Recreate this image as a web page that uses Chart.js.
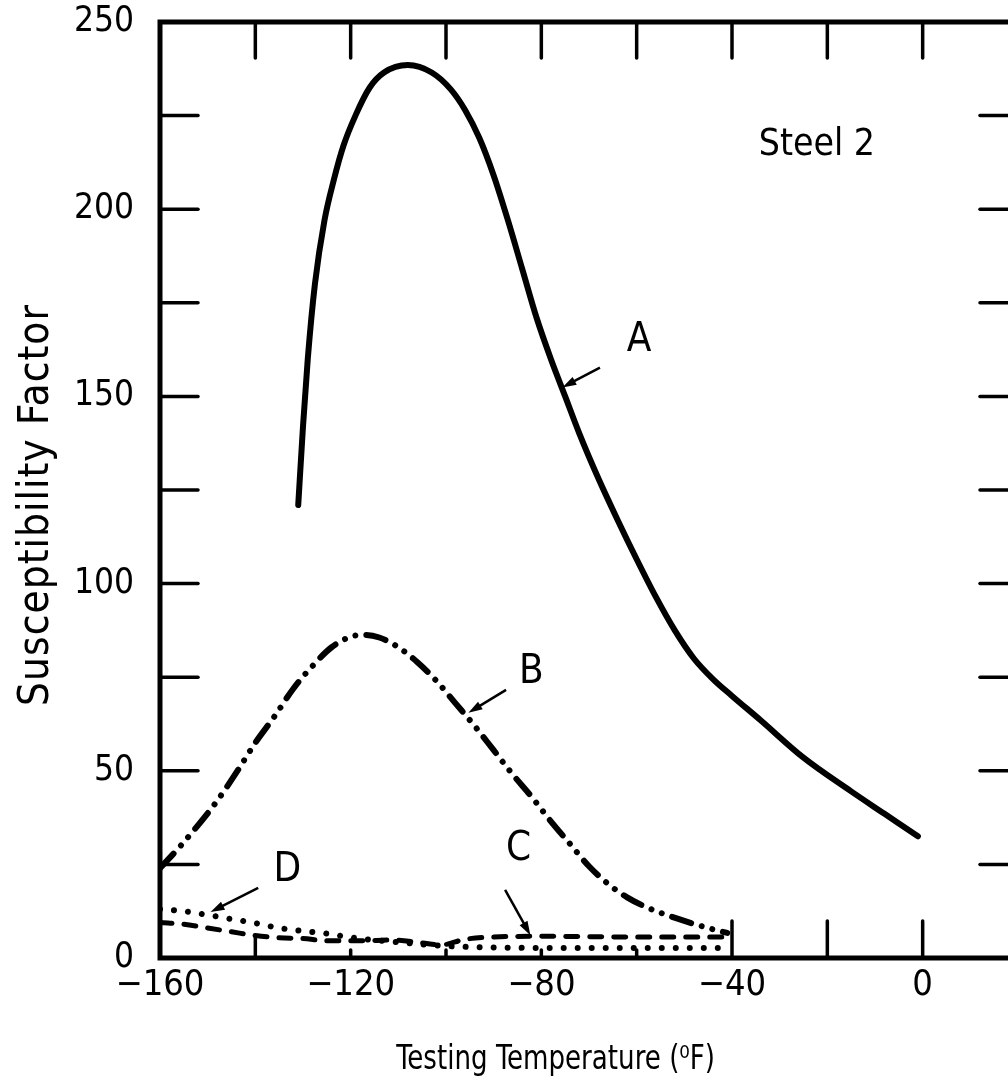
<!DOCTYPE html>
<html lang="en">
<head>
  <meta charset="UTF-8" />
  <title>Susceptibility Factor - Steel 2</title>
  <script src="https://cdn.jsdelivr.net/npm/chart.js"></script>
  <style>
    html, body {
      margin: 0;
      padding: 0;
      background: #fff;
      overflow: hidden;
    }
    #wrap {
      width: 1030px;
      height: 1091px;
    }
  </style>
</head>
<body>
  <div id="wrap"><canvas id="chart" width="1030" height="1091"></canvas></div>

  <script>
    // Curve A (solid)
    const aTemp = [-131, -130, -129, -127.5, -125.5, -123.5, -121.5, -119, -116, -113, -108, -103, -99, -96, -93, -90, -87, -84, -81, -78, -75, -72, -68, -64, -60, -56, -52, -48, -44, -40, -34, -25, -15, -8, -1];
    const aFactor = [121, 142, 160, 180, 197, 208, 217, 225, 232.5, 236.5, 238.5, 236.5, 232, 226.5, 219, 209, 197, 184, 171, 160, 150, 140, 128, 117, 106.5, 96.5, 87.5, 80, 74.5, 70, 63.5, 53.5, 44.5, 38.5, 32.5];

    // Curve B (dash-dot-dot)
    const bTemp = [-160, -156, -152, -148, -144, -140, -136, -132, -128, -124, -120, -117, -114, -110, -106, -102, -98, -94, -90, -86, -82, -78, -74, -70, -66, -62, -58, -54, -50, -45, -41];
    const bFactor = [24, 29.5, 35.5, 42, 49.5, 57.5, 64.5, 72, 78, 83, 85.8, 86.3, 85.6, 83, 79, 74, 68, 62, 55.5, 49, 43, 36.5, 30.5, 24.5, 19.8, 16.2, 13.6, 11.6, 9.9, 8, 6.7];

    // Curve C (dashed)
    const cTemp = [-160, -155, -150, -145, -140, -135, -130, -125, -118, -111, -105, -101, -96, -90, -80, -60, -41];
    const cFactor = [9.5, 9, 8, 7, 6, 5.4, 5.2, 4.6, 4.6, 4.8, 4, 3.5, 5, 5.6, 5.8, 5.6, 5.6];

    // Curve D (dotted)
    const dTemp = [-160, -155, -150, -145, -140, -135, -130, -125, -120, -110, -100, -90, -80, -60, -41];
    const dFactor = [13, 12.5, 11.5, 10.4, 9.3, 8, 7.2, 6.5, 5.5, 4.2, 3.2, 2.8, 2.7, 2.7, 2.7];

    const toPoints = (xs, ys) => xs.map((v, i) => ({ x: v, y: ys[i] }));

    const narrow = "'Liberation Sans Narrow', 'DejaVu Sans Condensed', 'Arial Narrow', sans-serif";

    const xTitle = 'Testing Temperature (⁰F)';
    const yTitle = 'Susceptibility Factor';

    // curve labels and their arrows, in data units
    const notes = [
      { text: 'Steel 2', x: -22.2, y: 217, size: 37 },
      { text: 'A', x: -59.5, y: 165, size: 40 },
      { text: 'B', x: -82.1, y: 76.2, size: 40 },
      { text: 'C', x: -84.8, y: 28.9, size: 40 },
      { text: 'D', x: -133.3, y: 23.3, size: 40 }
    ];
    const arrows = [
      { from: [-67.7, 157.7], to: [-75.6, 152.4] },
      { from: [-87.4, 71.6], to: [-95.3, 65.5] },
      { from: [-87.6, 18.2], to: [-82.3, 6.1] },
      { from: [-139.4, 18.7], to: [-149.4, 12.3] }
    ];

    // frame, inward tick marks, axis titles, labels and arrows
    const framePlugin = {
      id: 'framePlugin',
      afterDatasetsDraw(chart) {
        const { ctx, chartArea: a, scales: { x, y } } = chart;
        const seg = (x1, y1, x2, y2) => {
          ctx.beginPath();
          ctx.moveTo(x1, y1);
          ctx.lineTo(x2, y2);
          ctx.stroke();
        };
        ctx.save();
        ctx.strokeStyle = '#000';
        ctx.fillStyle = '#000';
        ctx.lineCap = 'round';
        ctx.lineWidth = 3.5;

        x.ticks.forEach(t => {
          if (t.value <= x.min || t.value >= x.max) return;
          const px = x.getPixelForValue(t.value);
          seg(px, a.top, px, a.top + 36);
          const len = t.value >= -40 ? 37 : (t.value === -140 ? 22 : 8);
          seg(px, a.bottom, px, a.bottom - len);
        });
        y.ticks.forEach(t => {
          if (t.value <= y.min || t.value >= y.max) return;
          const py = y.getPixelForValue(t.value);
          seg(a.left, py, a.left + 38, py);
          seg(a.right, py, a.right - 38, py);
        });

        ctx.lineWidth = 5;
        ctx.lineCap = 'butt';
        ctx.strokeRect(a.left, a.top, a.right - a.left, a.bottom - a.top);

        ctx.textAlign = 'center';
        ctx.textBaseline = 'middle';
        notes.forEach(n => {
          ctx.font = n.size + 'px ' + narrow;
          ctx.fillText(n.text, x.getPixelForValue(n.x), y.getPixelForValue(n.y));
        });

        // axis titles (condensed a little to match the original lettering)
        ctx.save();
        ctx.font = '33px ' + narrow;
        ctx.translate(x.getPixelForValue(-77), a.bottom + 102);
        ctx.scale(0.88, 1);
        ctx.fillText(xTitle, 0, 0);
        ctx.restore();

        ctx.save();
        ctx.font = '42px ' + narrow;
        ctx.letterSpacing = '1px';
        ctx.translate(a.left - 123, y.getPixelForValue(121));
        ctx.rotate(-Math.PI / 2);
        ctx.fillText(yTitle, 0, 0);
        ctx.restore();

        ctx.lineWidth = 2.5;
        arrows.forEach(ar => {
          const x1 = x.getPixelForValue(ar.from[0]), y1 = y.getPixelForValue(ar.from[1]);
          const x2 = x.getPixelForValue(ar.to[0]), y2 = y.getPixelForValue(ar.to[1]);
          const ang = Math.atan2(y2 - y1, x2 - x1);
          seg(x1, y1, x2 - 8 * Math.cos(ang), y2 - 8 * Math.sin(ang));
          ctx.beginPath();
          ctx.moveTo(x2, y2);
          ctx.lineTo(x2 - 14 * Math.cos(ang) + 4.5 * Math.sin(ang), y2 - 14 * Math.sin(ang) - 4.5 * Math.cos(ang));
          ctx.lineTo(x2 - 14 * Math.cos(ang) - 4.5 * Math.sin(ang), y2 - 14 * Math.sin(ang) + 4.5 * Math.cos(ang));
          ctx.closePath();
          ctx.fill();
        });
        ctx.restore();
      }
    };

    const lineStyle = {
      borderColor: '#000',
      pointRadius: 0,
      fill: false,
      cubicInterpolationMode: 'monotone',
      borderCapStyle: 'round',
      borderJoinStyle: 'round'
    };

    new Chart(document.getElementById('chart').getContext('2d'), {
      type: 'line',
      data: {
        datasets: [
          { ...lineStyle, label: 'A', data: toPoints(aTemp, aFactor), borderWidth: 6 },
          { ...lineStyle, label: 'B', data: toPoints(bTemp, bFactor), borderWidth: 6, borderDash: [20, 11, 0.01, 11, 0.01, 11] },
          { ...lineStyle, label: 'C', data: toPoints(cTemp, cFactor), borderWidth: 5, borderDash: [12, 12] },
          { ...lineStyle, label: 'D', data: toPoints(dTemp, dFactor), borderWidth: 6, borderDash: [0.01, 14] }
        ]
      },
      options: {
        responsive: false,
        animation: false,
        layout: { padding: { top: 22, right: 12, left: 0, bottom: 0 } },
        plugins: {
          legend: { display: false },
          tooltip: { enabled: false }
        },
        scales: {
          x: {
            type: 'linear',
            min: -160,
            max: 20,
            afterFit(s) {
              s.height = 133;
              s.paddingLeft = 0;
              s.paddingRight = 0;
            },
            grid: { display: false, drawTicks: false },
            border: { display: false },
            ticks: {
              stepSize: 20,
              autoSkip: false,
              maxRotation: 0,
              padding: 6,
              color: '#000',
              font: { family: narrow, size: 36 },
              callback: v => (v % 40 === 0 && v <= 0) ? (v < 0 ? '\u2212' + Math.abs(v) : String(v)) : ''
            }
          },
          y: {
            min: 0,
            max: 250,
            afterFit(s) {
              s.width = 160;
              s.paddingTop = 0;
              s.paddingBottom = 0;
            },
            grid: { display: false, drawTicks: false },
            border: { display: false },
            ticks: {
              stepSize: 25,
              autoSkip: false,
              padding: 26,
              color: '#000',
              font: { family: narrow, size: 35 },
              callback: v => v % 50 === 0 ? String(v) : ''
            }
          }
        }
      },
      plugins: [framePlugin]
    });
  </script>
</body>
</html>
